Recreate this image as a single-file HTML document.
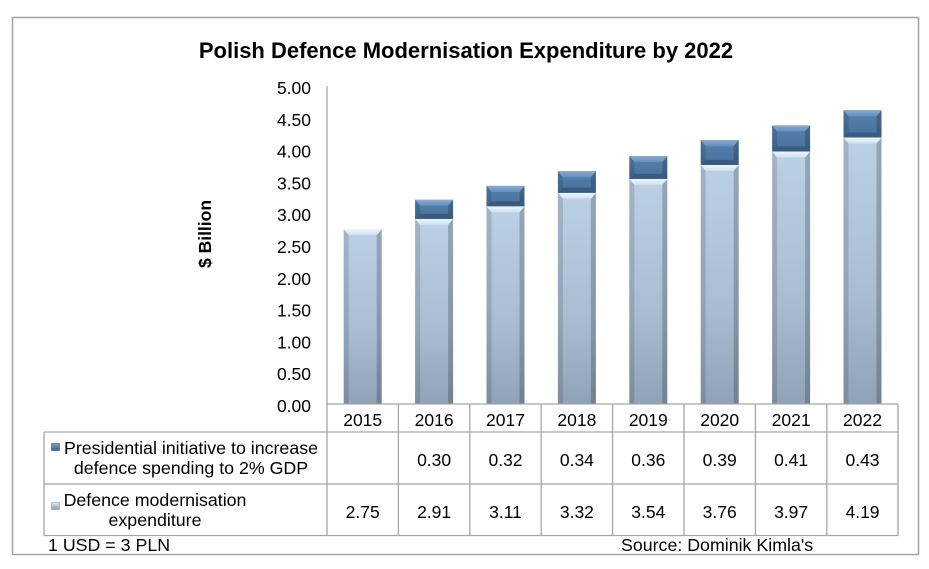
<!DOCTYPE html>
<html>
<head>
<meta charset="utf-8">
<style>
html,body{margin:0;padding:0;background:#fff;}
svg{display:block;}
text{font-family:"Liberation Sans",Arial,sans-serif;fill:#000;}
</style>
</head>
<body>
<svg width="929" height="569" viewBox="0 0 929 569" xmlns="http://www.w3.org/2000/svg">
<defs>
<linearGradient id="lg" x1="0" y1="0" x2="0" y2="1">
<stop offset="0" stop-color="#bbcfe5"/>
<stop offset="0.6" stop-color="#a9bcd2"/>
<stop offset="1" stop-color="#8fa2b6"/>
</linearGradient>
<linearGradient id="lgTop" x1="0" y1="0" x2="0" y2="1">
<stop offset="0" stop-color="#eef7fd"/>
<stop offset="1" stop-color="#cfe1f2"/>
</linearGradient>
<linearGradient id="dg" x1="0" y1="0" x2="0" y2="1">
<stop offset="0" stop-color="#5682af"/>
<stop offset="1" stop-color="#47709a"/>
</linearGradient>
<linearGradient id="dgTop" x1="0" y1="0" x2="0" y2="1">
<stop offset="0" stop-color="#86abd1"/>
<stop offset="1" stop-color="#6690bb"/>
</linearGradient>
<linearGradient id="mk1" x1="0" y1="0" x2="0" y2="1">
<stop offset="0" stop-color="#7aa0c8"/>
<stop offset="1" stop-color="#3d6089"/>
</linearGradient>
<linearGradient id="mk2" x1="0" y1="0" x2="0" y2="1">
<stop offset="0" stop-color="#dce8f4"/>
<stop offset="1" stop-color="#8a9db2"/>
</linearGradient>
</defs>

<rect x="12.5" y="17.5" width="906" height="537" fill="#fff" stroke="#a3a3a3" stroke-width="1.5"/>

<text x="466" y="58" font-size="22" font-weight="bold" text-anchor="middle">Polish Defence Modernisation Expenditure by 2022</text>

<text transform="translate(211,234) rotate(-90)" x="0" y="0" font-size="17.5" font-weight="bold" text-anchor="middle">$ Billion</text>

<g font-size="17.5" text-anchor="end">
<text x="311" y="412">0.00</text>
<text x="311" y="380.2">0.50</text>
<text x="311" y="348.4">1.00</text>
<text x="311" y="316.6">1.50</text>
<text x="311" y="284.8">2.00</text>
<text x="311" y="253">2.50</text>
<text x="311" y="221.2">3.00</text>
<text x="311" y="189.4">3.50</text>
<text x="311" y="157.6">4.00</text>
<text x="311" y="125.8">4.50</text>
<text x="311" y="94">5.00</text>
</g>

<g>
<g transform="translate(343.7,229.1)"><rect x="0" y="0" width="38" height="174.9" fill="url(#lg)"/><polygon points="0,174.9 0,0 5,6 5,174.9" fill="#000" opacity="0.13"/><polygon points="38,174.9 38,0 33,6 33,174.9" fill="#000" opacity="0.2"/><polygon points="0,0 38,0 33,6 5,6" fill="url(#lgTop)"/></g>
<g transform="translate(415.1,218.9)"><rect x="0" y="0" width="38" height="185.1" fill="url(#lg)"/><polygon points="0,185.1 0,0 5,6 5,185.1" fill="#000" opacity="0.13"/><polygon points="38,185.1 38,0 33,6 33,185.1" fill="#000" opacity="0.2"/><polygon points="0,0 38,0 33,6 5,6" fill="url(#lgTop)"/></g>
<g transform="translate(486.5,206.2)"><rect x="0" y="0" width="38" height="197.8" fill="url(#lg)"/><polygon points="0,197.8 0,0 5,6 5,197.8" fill="#000" opacity="0.13"/><polygon points="38,197.8 38,0 33,6 33,197.8" fill="#000" opacity="0.2"/><polygon points="0,0 38,0 33,6 5,6" fill="url(#lgTop)"/></g>
<g transform="translate(557.9,192.8)"><rect x="0" y="0" width="38" height="211.2" fill="url(#lg)"/><polygon points="0,211.2 0,0 5,6 5,211.2" fill="#000" opacity="0.13"/><polygon points="38,211.2 38,0 33,6 33,211.2" fill="#000" opacity="0.2"/><polygon points="0,0 38,0 33,6 5,6" fill="url(#lgTop)"/></g>
<g transform="translate(629.3,178.9)"><rect x="0" y="0" width="38" height="225.1" fill="url(#lg)"/><polygon points="0,225.1 0,0 5,6 5,225.1" fill="#000" opacity="0.13"/><polygon points="38,225.1 38,0 33,6 33,225.1" fill="#000" opacity="0.2"/><polygon points="0,0 38,0 33,6 5,6" fill="url(#lgTop)"/></g>
<g transform="translate(700.7,164.9)"><rect x="0" y="0" width="38" height="239.1" fill="url(#lg)"/><polygon points="0,239.1 0,0 5,6 5,239.1" fill="#000" opacity="0.13"/><polygon points="38,239.1 38,0 33,6 33,239.1" fill="#000" opacity="0.2"/><polygon points="0,0 38,0 33,6 5,6" fill="url(#lgTop)"/></g>
<g transform="translate(772.1,151.5)"><rect x="0" y="0" width="38" height="252.5" fill="url(#lg)"/><polygon points="0,252.5 0,0 5,6 5,252.5" fill="#000" opacity="0.13"/><polygon points="38,252.5 38,0 33,6 33,252.5" fill="#000" opacity="0.2"/><polygon points="0,0 38,0 33,6 5,6" fill="url(#lgTop)"/></g>
<g transform="translate(843.5,137.5)"><rect x="0" y="0" width="38" height="266.5" fill="url(#lg)"/><polygon points="0,266.5 0,0 5,6 5,266.5" fill="#000" opacity="0.13"/><polygon points="38,266.5 38,0 33,6 33,266.5" fill="#000" opacity="0.2"/><polygon points="0,0 38,0 33,6 5,6" fill="url(#lgTop)"/></g>
</g>

<g>
<g transform="translate(415.1,199.8)"><rect x="0" y="0" width="38" height="19.1" fill="url(#dg)"/><polygon points="0,0 5,6 5,14.1 0,19.1" fill="#000" opacity="0.12"/><polygon points="38,0 33,6 33,14.1 38,19.1" fill="#000" opacity="0.2"/><polygon points="0,19.1 5,14.1 33,14.1 38,19.1" fill="#3a5b7e"/><polygon points="0,0 38,0 33,6 5,6" fill="url(#dgTop)"/></g>
<g transform="translate(486.5,185.9)"><rect x="0" y="0" width="38" height="20.3" fill="url(#dg)"/><polygon points="0,0 5,6 5,15.3 0,20.3" fill="#000" opacity="0.12"/><polygon points="38,0 33,6 33,15.3 38,20.3" fill="#000" opacity="0.2"/><polygon points="0,20.3 5,15.3 33,15.3 38,20.3" fill="#3a5b7e"/><polygon points="0,0 38,0 33,6 5,6" fill="url(#dgTop)"/></g>
<g transform="translate(557.9,171.2)"><rect x="0" y="0" width="38" height="21.6" fill="url(#dg)"/><polygon points="0,0 5,6 5,16.6 0,21.6" fill="#000" opacity="0.12"/><polygon points="38,0 33,6 33,16.6 38,21.6" fill="#000" opacity="0.2"/><polygon points="0,21.6 5,16.6 33,16.6 38,21.6" fill="#3a5b7e"/><polygon points="0,0 38,0 33,6 5,6" fill="url(#dgTop)"/></g>
<g transform="translate(629.3,156.0)"><rect x="0" y="0" width="38" height="22.9" fill="url(#dg)"/><polygon points="0,0 5,6 5,17.9 0,22.9" fill="#000" opacity="0.12"/><polygon points="38,0 33,6 33,17.9 38,22.9" fill="#000" opacity="0.2"/><polygon points="0,22.9 5,17.9 33,17.9 38,22.9" fill="#3a5b7e"/><polygon points="0,0 38,0 33,6 5,6" fill="url(#dgTop)"/></g>
<g transform="translate(700.7,140.1)"><rect x="0" y="0" width="38" height="24.8" fill="url(#dg)"/><polygon points="0,0 5,6 5,19.8 0,24.8" fill="#000" opacity="0.12"/><polygon points="38,0 33,6 33,19.8 38,24.8" fill="#000" opacity="0.2"/><polygon points="0,24.8 5,19.8 33,19.8 38,24.8" fill="#3a5b7e"/><polygon points="0,0 38,0 33,6 5,6" fill="url(#dgTop)"/></g>
<g transform="translate(772.1,125.4)"><rect x="0" y="0" width="38" height="26.1" fill="url(#dg)"/><polygon points="0,0 5,6 5,21.1 0,26.1" fill="#000" opacity="0.12"/><polygon points="38,0 33,6 33,21.1 38,26.1" fill="#000" opacity="0.2"/><polygon points="0,26.1 5,21.1 33,21.1 38,26.1" fill="#3a5b7e"/><polygon points="0,0 38,0 33,6 5,6" fill="url(#dgTop)"/></g>
<g transform="translate(843.5,110.2)"><rect x="0" y="0" width="38" height="27.3" fill="url(#dg)"/><polygon points="0,0 5,6 5,22.3 0,27.3" fill="#000" opacity="0.12"/><polygon points="38,0 33,6 33,22.3 38,27.3" fill="#000" opacity="0.2"/><polygon points="0,27.3 5,22.3 33,22.3 38,27.3" fill="#3a5b7e"/><polygon points="0,0 38,0 33,6 5,6" fill="url(#dgTop)"/></g>
</g>

<g stroke="#a6a6a6" stroke-width="1.3" fill="none">
<line x1="327" y1="86" x2="327" y2="535.5"/>
<line x1="327" y1="404" x2="898" y2="404"/>
<line x1="44" y1="432" x2="898" y2="432"/>
<line x1="44" y1="484" x2="898" y2="484"/>
<line x1="44" y1="535.5" x2="898" y2="535.5"/>
<line x1="44" y1="432" x2="44" y2="535.5"/>
<line x1="398.4" y1="404" x2="398.4" y2="535.5"/>
<line x1="469.8" y1="404" x2="469.8" y2="535.5"/>
<line x1="541.2" y1="404" x2="541.2" y2="535.5"/>
<line x1="612.6" y1="404" x2="612.6" y2="535.5"/>
<line x1="684" y1="404" x2="684" y2="535.5"/>
<line x1="755.4" y1="404" x2="755.4" y2="535.5"/>
<line x1="826.8" y1="404" x2="826.8" y2="535.5"/>
<line x1="898" y1="404" x2="898" y2="535.5"/>
</g>

<g font-size="17.5" text-anchor="middle">
<text x="362.7" y="426">2015</text>
<text x="434.1" y="426">2016</text>
<text x="505.5" y="426">2017</text>
<text x="576.9" y="426">2018</text>
<text x="648.3" y="426">2019</text>
<text x="719.7" y="426">2020</text>
<text x="791.1" y="426">2021</text>
<text x="862.5" y="426">2022</text>

<text x="434.1" y="466">0.30</text>
<text x="505.5" y="466">0.32</text>
<text x="576.9" y="466">0.34</text>
<text x="648.3" y="466">0.36</text>
<text x="719.7" y="466">0.39</text>
<text x="791.1" y="466">0.41</text>
<text x="862.5" y="466">0.43</text>

<text x="362.7" y="518">2.75</text>
<text x="434.1" y="518">2.91</text>
<text x="505.5" y="518">3.11</text>
<text x="576.9" y="518">3.32</text>
<text x="648.3" y="518">3.54</text>
<text x="719.7" y="518">3.76</text>
<text x="791.1" y="518">3.97</text>
<text x="862.5" y="518">4.19</text>
</g>

<g font-size="17.8" text-anchor="middle">
<text x="191" y="454">Presidential initiative to increase</text>
<text x="191" y="474">defence spending to 2% GDP</text>
<text x="155" y="506">Defence modernisation</text>
<text x="155" y="526">expenditure</text>
</g>

<rect x="51.5" y="443.5" width="8" height="7" fill="url(#mk1)" stroke="#3a5b7e" stroke-width="0.6"/>
<rect x="51.5" y="502.5" width="8" height="7" fill="url(#mk2)" stroke="#8a9db2" stroke-width="0.6"/>

<text x="48" y="551" font-size="17.8">1 USD = 3 PLN</text>
<text x="621" y="551" font-size="17.8">Source: Dominik Kimla's</text>
</svg>
</body>
</html>
